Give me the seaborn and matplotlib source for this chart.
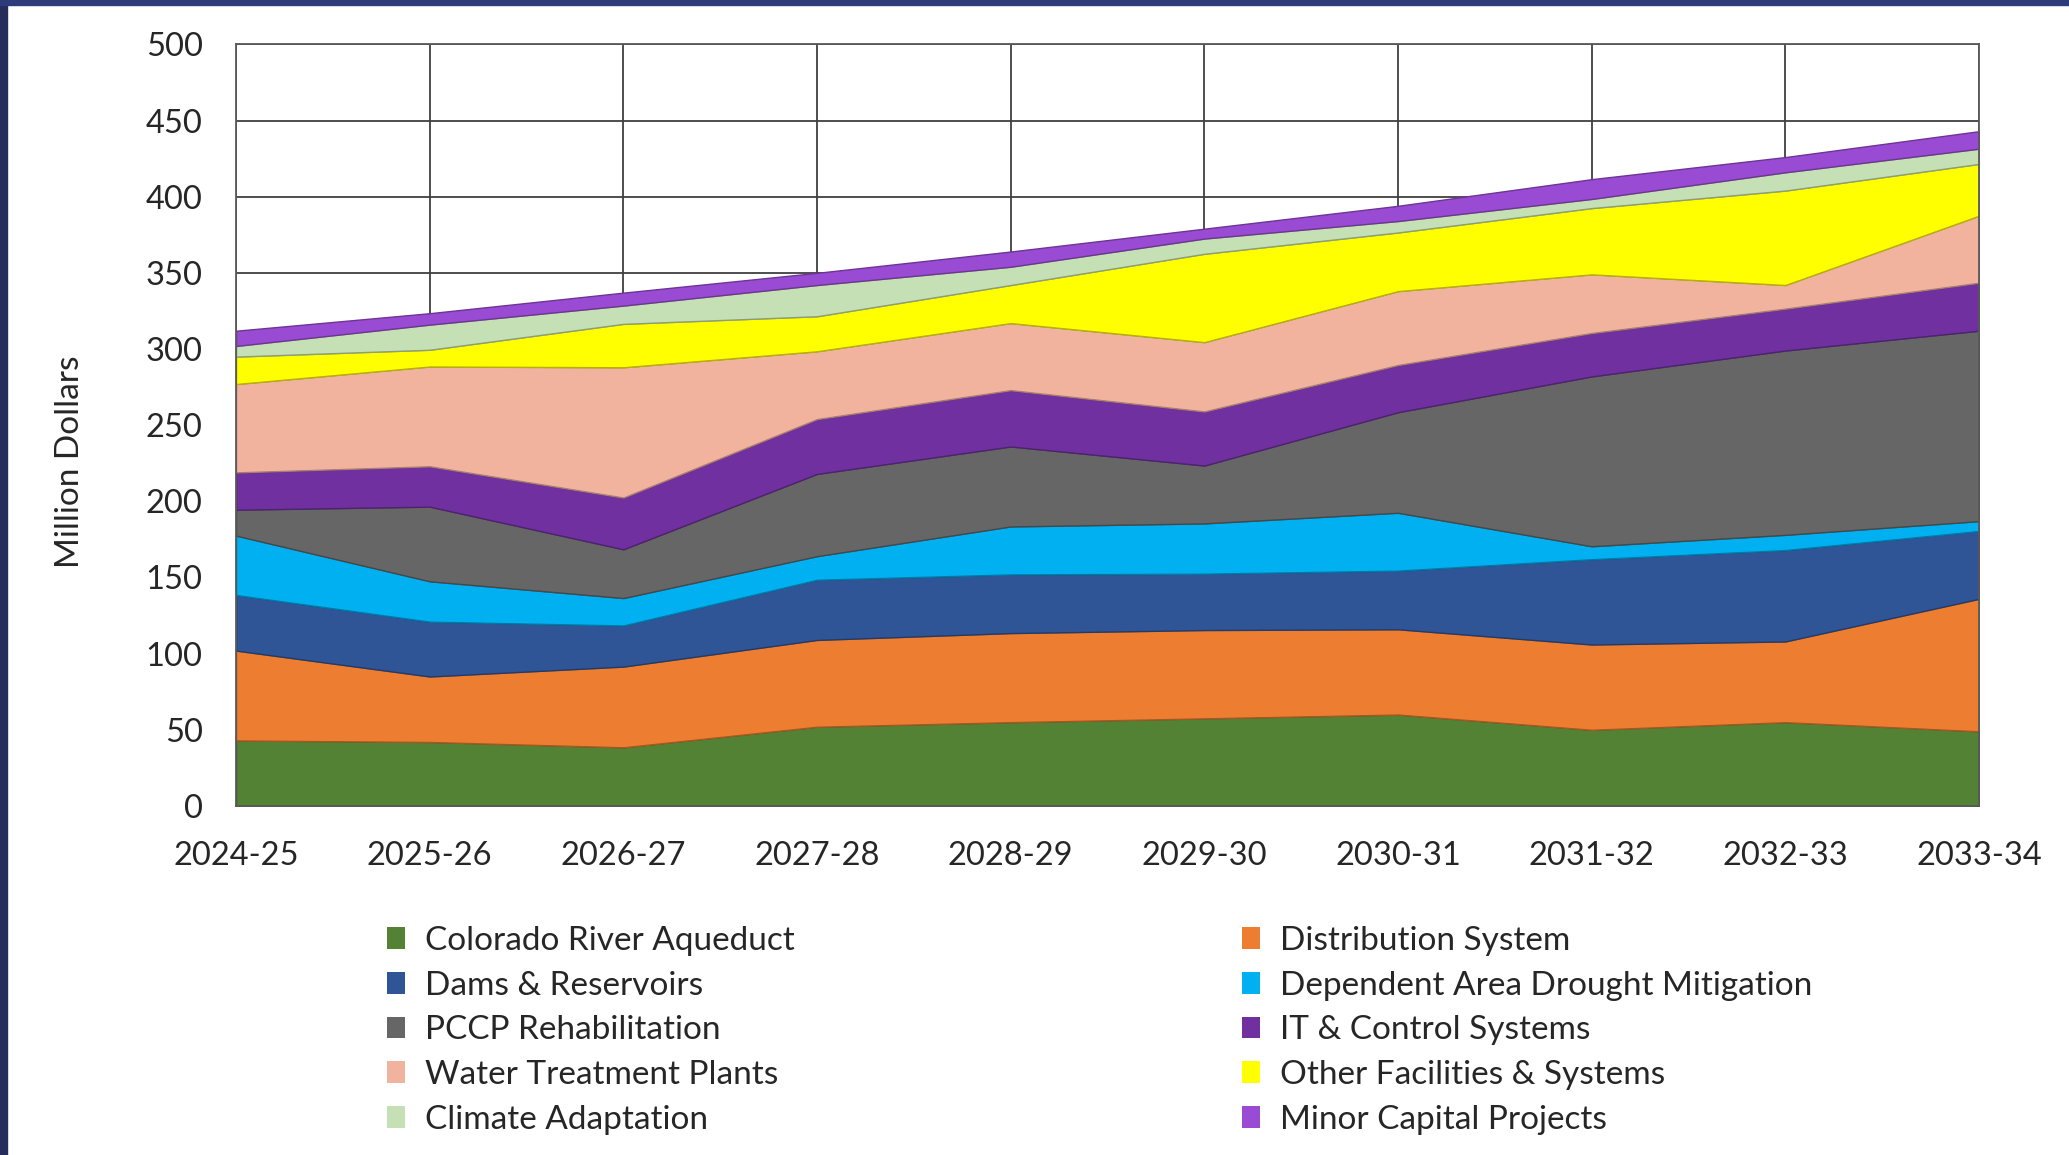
import numpy as np
import pandas as pd
import seaborn as sns
import matplotlib.pyplot as plt
from matplotlib.patches import Patch, Rectangle
from matplotlib.colors import to_rgb

# Fiscal years on the x axis
years = ["2024-25", "2025-26", "2026-27", "2027-28", "2028-29",
         "2029-30", "2030-31", "2031-32", "2032-33", "2033-34"]

# Spending per program, million dollars
colorado = [43, 42, 38.5, 52, 55, 57.5, 60, 50, 55, 49]
distribution = [59, 43, 53, 57, 58.5, 58, 56, 56, 53, 87]
dams = [36.5, 36, 27, 39.5, 38.5, 37, 38.5, 56, 60, 44.5]
drought = [39, 26.5, 18, 15.5, 31.5, 33, 38, 8.5, 10, 6.5]
pccp = [17, 49, 32, 54, 52.5, 38, 66, 111.5, 121, 125]
it_control = [24.5, 26.5, 34, 36, 37, 35.5, 31, 28.5, 27.5, 31.5]
treatment = [58, 65.5, 85.5, 44.5, 44, 45.5, 48.5, 38.5, 15.5, 44]
other = [18, 11, 28.5, 23, 25, 58, 38.5, 43.5, 62, 34]
climate = [7, 16.5, 12, 20.5, 12, 10, 7.5, 6, 12, 10]
minor = [10, 7.5, 8.5, 8, 10, 6.5, 10, 13, 10, 11.5]

labels = ["Colorado River Aqueduct", "Distribution System", "Dams & Reservoirs",
          "Dependent Area Drought Mitigation", "PCCP Rehabilitation",
          "IT & Control Systems", "Water Treatment Plants",
          "Other Facilities & Systems", "Climate Adaptation", "Minor Capital Projects"]
colors = ["#548235", "#ED7D31", "#2F5597", "#00B0F0", "#666666",
          "#7030A0", "#F2B39E", "#FFFF00", "#C5E0B4", "#9A4BD4"]

df = pd.DataFrame(dict(zip(labels, [colorado, distribution, dams, drought, pccp,
                                    it_control, treatment, other, climate, minor])),
                  index=years)

sns.set_theme(style="white")
plt.rcParams["font.family"] = ["Lato", "DejaVu Sans"]

fig = plt.figure(figsize=(20.69, 11.55), dpi=100)
ax = fig.add_axes([0.1141, 0.3022, 0.8424, 0.6594])

x = np.arange(len(years))
edges = [tuple(c * 0.7 for c in to_rgb(col)) for col in colors]
polys = ax.stackplot(x, df.T.values, colors=colors, labels=labels)
for p, e in zip(polys, edges):
    p.set_edgecolor(e)
    p.set_linewidth(1.0)

ax.set_xlim(0, len(years) - 1)
ax.set_ylim(0, 500)
ax.set_yticks(range(0, 501, 50))
ax.set_xticks(x)
ax.set_xticklabels(years)
ax.set_axisbelow(True)
ax.grid(True, color="#404040", linewidth=1.3)
for s in ax.spines.values():
    s.set_color("#595959")
    s.set_linewidth(1.3)

ax.tick_params(axis="x", direction="inout", length=17, width=1.3, color="#404040",
               pad=17, labelsize=23.5, labelcolor="#262626")
ax.tick_params(axis="y", length=0, pad=24, labelsize=23.5, labelcolor="#262626")
ax.set_ylabel("Million Dollars", fontsize=24, color="#262626")
ax.yaxis.set_label_coords(-0.0866, 0.4516)

# two column legend below the plot
handles = [Patch(facecolor=c, edgecolor="none") for c in colors]
leg_kw = dict(loc="upper left", frameon=False, fontsize=24, labelcolor="#262626",
              handlelength=0.55, handleheight=0.63, handletextpad=0.6,
              labelspacing=0.44, borderpad=0, borderaxespad=0)
fig.legend(handles[0::2], labels[0::2], bbox_to_anchor=(0.1869, 0.1983), **leg_kw)
fig.legend(handles[1::2], labels[1::2], bbox_to_anchor=(0.6001, 0.1983), **leg_kw)

# dark slide border at the left and top
fig.patches.append(Rectangle((0, 0), 0.0035, 1, transform=fig.transFigure,
                             color="#262c5c", zorder=5))
fig.patches.append(Rectangle((0, 0.9957), 1, 0.0043, transform=fig.transFigure,
                             color="#2e3b7a", zorder=5))

fig.savefig("out.png", dpi=100)
